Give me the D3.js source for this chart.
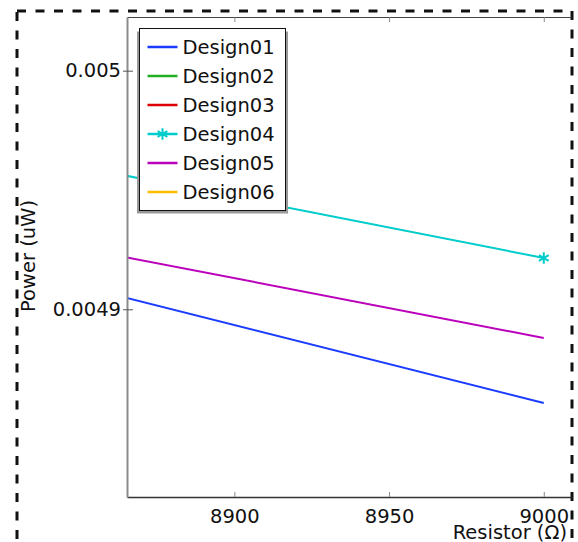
<!DOCTYPE html>
<meta charset="utf-8">
<style>
body { margin: 0; background: #fff; }
text { font-family: "DejaVu Sans", sans-serif; font-size: 19.5px; fill: #111; }
.line { fill: none; stroke-width: 2px; }
</style>
<body>
<script src="https://cdnjs.cloudflare.com/ajax/libs/d3/7.8.5/d3.min.js"></script>
<script>

// data (Designs 02, 03, 06 lie outside the shown range)
var resistor = [8800, 9000];
var design01 = [0.0049261, 0.0048607];
var design02 = [null, null];
var design03 = [null, null];
var design04 = [0.0049726, 0.0049215];
var design05 = [0.0049381, 0.0048880];
var design06 = [null, null];

var names = ["Design01", "Design02", "Design03", "Design04", "Design05", "Design06"];
var colors = ["#1a3cff", "#22b022", "#dd0000", "#00cccc", "#bb00bb", "#ffbb00"];
var hasMarker = [false, false, false, true, false, false];

var xTicks = [8900, 8950, 9000];
var yTicks = [0.0049, 0.005];
var xDomain = [8865.3, 9008.8];
var yDomain = [0.00482133, 0.0050225];

var series = [design01, design02, design03, design04, design05, design06].map(function(v, i) {
  return { name: names[i], color: colors[i], marker: hasMarker[i],
           values: v.map(function(y, j) { return { x: resistor[j], y: y }; }) };
});

var margin = {top: 17, right: 7, bottom: 45, left: 127},
    width = 578 - margin.left - margin.right,
    height = 542 - margin.top - margin.bottom;

var svg = d3.select("body").append("svg")
    .attr("width", 578)
    .attr("height", 542);

// dashed frame
svg.append("rect")
    .attr("x", 17).attr("y", 11)
    .attr("width", 555).attr("height", 560)
    .attr("fill", "none")
    .attr("stroke", "#111")
    .attr("stroke-width", 3)
    .attr("stroke-dasharray", "9,9.5");

var g = svg.append("g")
    .attr("transform", "translate(" + margin.left + "," + margin.top + ")");

var x = d3.scaleLinear().domain(xDomain).range([0, width]);
var y = d3.scaleLinear().domain(yDomain).range([height, 0]);

g.append("clipPath").attr("id", "clip")
  .append("rect").attr("width", width).attr("height", height);

var line = d3.line()
    .defined(function(d) { return d.y !== null; })
    .x(function(d) { return x(d.x); })
    .y(function(d) { return y(d.y); });

var plot = g.append("g").attr("clip-path", "url(#clip)");

var star = d3.symbol().type(d3.symbolAsterisk).size(90);

series.forEach(function(s) {
  plot.append("path")
      .datum(s.values)
      .attr("class", "line")
      .style("stroke", s.color)
      .attr("d", line);
  if (s.marker) {
    plot.selectAll(null)
        .data(s.values.filter(function(d) { return d.y !== null; }))
      .enter().append("path")
        .attr("transform", function(d) { return "translate(" + x(d.x) + "," + y(d.y) + ")"; })
        .attr("d", star)
        .attr("fill", "none")
        .attr("stroke", s.color)
        .attr("stroke-width", 2);
  }
});

// axes
var xAxis = g.append("g")
    .attr("transform", "translate(0," + height + ")")
    .call(d3.axisBottom(x).tickValues(xTicks).tickSizeInner(-5).tickSizeOuter(0).tickPadding(12)
      .tickFormat(d3.format("d")));
xAxis.select(".domain").attr("stroke", "#333").attr("stroke-width", 1.5);
xAxis.selectAll(".tick line").attr("stroke", "#888");
xAxis.selectAll("text").style("font-size", "19.5px").attr("fill", "#111");

var xTop = g.append("g")
    .call(d3.axisTop(x).tickValues(xTicks).tickSizeInner(-5).tickSizeOuter(0).tickFormat(""));
xTop.select(".domain").attr("stroke", "#444").attr("stroke-width", 1.2);
xTop.selectAll(".tick line").attr("stroke", "#888");

var yAxis = g.append("g")
    .call(d3.axisLeft(y).tickValues(yTicks).tickSizeInner(-6).tickSizeOuter(0).tickPadding(6)
      .tickFormat(function(d) { return String(d); }));
yAxis.select(".domain").attr("stroke", "#8c8c8c").attr("stroke-width", 2);
yAxis.selectAll(".tick line").attr("stroke", "#555").attr("x1", -4);
yAxis.selectAll("text").style("font-size", "19.5px").attr("fill", "#111");

// axis labels
svg.append("text")
    .attr("transform", "translate(35,256) rotate(-90)")
    .attr("text-anchor", "middle")
    .text("Power (uW)");

svg.append("text")
    .attr("x", 567).attr("y", 539)
    .attr("text-anchor", "end")
    .text("Resistor (\u03A9)");

// legend
var lx = 139.5, ly = 28.5, lw = 146, lh = 182, step = 29;
svg.append("rect")
    .attr("x", lx - 2.5).attr("y", ly + 3)
    .attr("width", lw + 5).attr("height", lh)
    .attr("fill", "#999");
svg.append("rect")
    .attr("x", lx).attr("y", ly)
    .attr("width", lw).attr("height", lh)
    .attr("fill", "#fff").attr("stroke", "#111").attr("stroke-width", 1);

var legend = svg.selectAll(".legend")
    .data(series)
  .enter().append("g")
    .attr("class", "legend")
    .attr("transform", function(d, i) { return "translate(" + lx + "," + (ly + 18.5 + i * step) + ")"; });

legend.append("line")
    .attr("x1", 8).attr("x2", 38)
    .attr("stroke", function(d) { return d.color; })
    .attr("stroke-width", 2.5);

legend.filter(function(d) { return d.marker; })
  .append("path")
    .attr("transform", "translate(23,0)")
    .attr("d", star)
    .attr("fill", "none")
    .attr("stroke", function(d) { return d.color; })
    .attr("stroke-width", 2);

legend.append("text")
    .attr("x", 43).attr("y", 7)
    .text(function(d) { return d.name; });

</script>
</body>
